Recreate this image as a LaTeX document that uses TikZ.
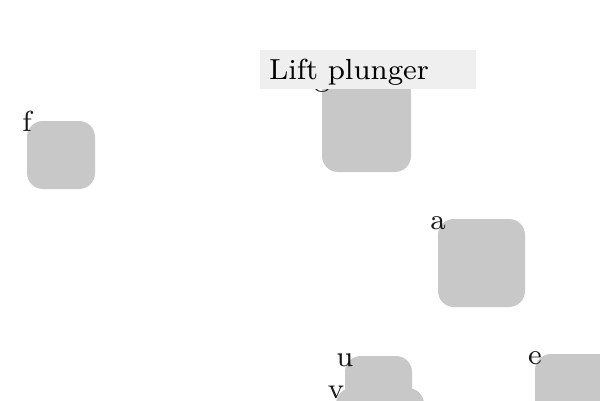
\documentclass[tikz,border=0pt]{standalone}
\usepackage{fontspec}
\setmainfont{lmroman8-regular}[Extension=.otf]
\usepackage{tikz}
\usetikzlibrary{positioning}
\definecolor{boxgray}{RGB}{200,200,200}
\definecolor{titlegray}{RGB}{239,239,239}

\begin{document}
\begin{tikzpicture}[x=1pt, y=1pt, every node/.style={font=\fontsize{29}{34}\selectfont}]
\tikzset{box/.style={fill=boxgray, rounded corners=16pt, inner sep=0pt, outer sep=0pt}}
\tikzset{tag/.style={anchor=center, inner sep=0pt, text height=20pt, text depth=0pt, text=black!90}}
\tikzset{title/.style={fill=titlegray, minimum width=216pt, minimum height=39pt, text width=198pt, inner xsep=9pt, inner ysep=0pt, text height=20pt, text depth=0pt, align=left}}
\useasboundingbox (0,0) rectangle (600,400);
\clip (0,0) rectangle (600,400);
% boxes
\node[box, minimum width=68pt, minimum height=68pt] (f) at (61,245) {};
\node[box, minimum width=89pt, minimum height=96pt] (g) at (366.5,276) {};
\node[box, minimum width=87pt, minimum height=88pt] (a) at (481.5,137) {};
\node[box, minimum width=67pt, minimum height=67pt] (u) at (378.5,10.5) {};
\node[box, minimum width=88pt, minimum height=88pt] (v) at (380,-32) {};
\node[box, minimum width=88pt, minimum height=88pt] (e) at (579,2) {};
% labels at the corners
\node[tag] (f-tag) at (f.north west) {f};
\node[tag] (g-tag) at (g.north west) {g};
\node[tag] (a-tag) at (a.north west) {a};
\node[tag] (u-tag) at (u.north west) {u};
\node[tag] (v-tag) at (v.north west) {v};
\node[tag] (e-tag) at (e.north west) {e};
% title
\node[title] (lift) at (368,330.5) {Lift plunger};
\end{tikzpicture}
\end{document}
